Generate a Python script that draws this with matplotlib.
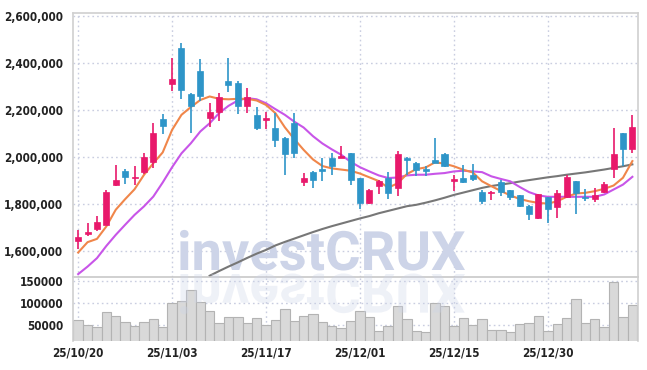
import matplotlib
matplotlib.use('Agg')
import matplotlib.pyplot as plt
import numpy as np
from matplotlib import font_manager
from matplotlib.textpath import TextPath
from matplotlib.patches import PathPatch
from matplotlib.transforms import Affine2D, IdentityTransform
from matplotlib.font_manager import FontProperties

# ---------------- data ----------------
opens = [1644000, 1670000, 1695000, 1712000, 1881000, 1938000, 1908000, 1935000, 1979000, 2163000,
         2311000, 2464000, 2268000, 2366000, 2167000, 2190000, 2323000, 2315000, 2218000, 2179000,
         2157000, 2123000, 2082000, 2144000, 1894000, 1937000, 1950000, 1997000, 1996000, 2016000,
         1910000, 1804000, 1875000, 1910000, 1867000, 1997000, 1972000, 1950000, 1988000, 2014000,
         1899000, 1911000, 1924000, 1852000, 1846000, 1892000, 1857000, 1837000, 1793000, 1740000,
         1830000, 1787000, 1830000, 1896000, 1831000, 1821000, 1852000, 1949000, 2102000, 2034000]
highs = [1688000, 1718000, 1749000, 1858000, 1966000, 1948000, 1962000, 2016000, 2143000, 2182000,
         2420000, 2484000, 2270000, 2416000, 2231000, 2271000, 2420000, 2325000, 2292000, 2211000,
         2193000, 2186000, 2084000, 2186000, 1931000, 1940000, 1995000, 2016000, 2048000, 2018000,
         1912000, 1863000, 1903000, 1936000, 2023000, 1998000, 1979000, 1962000, 2080000, 2016000,
         1924000, 1964000, 1970000, 1857000, 1854000, 1903000, 1858000, 1838000, 1794000, 1841000,
         1831000, 1861000, 1921000, 1897000, 1864000, 1868000, 1895000, 2123000, 2103000, 2177000]
lows = [1608000, 1664000, 1684000, 1710000, 1874000, 1884000, 1879000, 1928000, 1952000, 2099000,
        2282000, 2245000, 2101000, 2236000, 2126000, 2153000, 2275000, 2182000, 2186000, 2115000,
        2118000, 2044000, 1922000, 1995000, 1875000, 1867000, 1896000, 1924000, 1995000, 1882000,
        1778000, 1801000, 1843000, 1822000, 1832000, 1924000, 1917000, 1920000, 1974000, 1958000,
        1856000, 1889000, 1896000, 1799000, 1818000, 1832000, 1818000, 1786000, 1733000, 1737000,
        1719000, 1738000, 1825000, 1755000, 1811000, 1810000, 1847000, 1911000, 1963000, 2017000]
closes = [1660000, 1681000, 1721000, 1851000, 1902000, 1916000, 1916000, 2000000, 2102000, 2132000,
          2332000, 2285000, 2217000, 2257000, 2192000, 2254000, 2304000, 2217000, 2254000, 2123000,
          2166000, 2072000, 2014000, 2016000, 1911000, 1900000, 1938000, 1960000, 2001000, 1900000,
          1804000, 1860000, 1896000, 1846000, 2012000, 1985000, 1945000, 1941000, 1974000, 1960000,
          1903000, 1894000, 1907000, 1811000, 1852000, 1849000, 1828000, 1790000, 1757000, 1840000,
          1779000, 1848000, 1915000, 1847000, 1824000, 1838000, 1886000, 2014000, 2034000, 2126000]
ma_short = [1593000, 1637000, 1651000, 1704000, 1775000, 1820000, 1862000, 1923000, 1973000, 2019000,
            2115000, 2179000, 2212000, 2242000, 2257000, 2247000, 2245000, 2247000, 2247000, 2240000,
            2221000, 2186000, 2126000, 2076000, 2030000, 1989000, 1961000, 1951000, 1946000, 1941000,
            1929000, 1913000, 1897000, 1869000, 1887000, 1927000, 1948000, 1955000, 1977000, 1971000,
            1960000, 1945000, 1934000, 1896000, 1875000, 1855000, 1836000, 1821000, 1811000, 1804000,
            1801000, 1811000, 1830000, 1844000, 1847000, 1854000, 1864000, 1878000, 1911000, 1982000]
ma_mid = [1501000, 1533000, 1569000, 1621000, 1668000, 1711000, 1753000, 1789000, 1831000, 1891000,
          1956000, 2015000, 2058000, 2108000, 2143000, 2186000, 2217000, 2240000, 2250000, 2245000,
          2228000, 2203000, 2179000, 2150000, 2125000, 2088000, 2057000, 2032000, 2009000, 1979000,
          1956000, 1938000, 1921000, 1910000, 1912000, 1921000, 1924000, 1924000, 1928000, 1931000,
          1938000, 1941000, 1938000, 1935000, 1917000, 1906000, 1896000, 1872000, 1850000, 1836000,
          1830000, 1830000, 1830000, 1830000, 1830000, 1830000, 1840000, 1861000, 1882000, 1915000]
ma_long = [None] * 14 + [
    1494000, 1514000, 1533000, 1551000, 1570000, 1588000, 1604000, 1623000, 1638000, 1652000,
    1666000, 1680000, 1693000, 1705000, 1716000, 1727000, 1738000, 1748000, 1760000, 1770000,
    1780000, 1790000, 1796000, 1805000, 1815000, 1826000, 1838000, 1848000, 1858000, 1868000,
    1876000, 1882000, 1888000, 1895000, 1901000, 1907000, 1913000, 1918000, 1924000, 1929000,
    1934000, 1940000, 1946000, 1953000, 1960000, 1968000]
volumes = [60600, 50000, 45500, 78800, 70500, 56100, 47700, 56100, 62900, 45500,
           100000, 103800, 129500, 101500, 81100, 53800, 67400, 67400, 53800, 65200,
           50000, 60600, 85600, 58300, 70500, 74200, 56100, 47700, 42400, 58300,
           81100, 68200, 35600, 47700, 93200, 62900, 35600, 33300, 100000, 93200,
           47000, 65200, 50000, 62900, 37900, 37900, 33300, 51500, 53800, 69700,
           35600, 51500, 65200, 108300, 53800, 62900, 44700, 147000, 67400, 94700]
date_tick_idx = [0, 10, 20, 30, 40, 50]
date_tick_labels = ['25/10/20', '25/11/03', '25/11/17', '25/12/01', '25/12/15', '25/12/30']
price_ticks = [1600000, 1800000, 2000000, 2200000, 2400000, 2600000]
volume_ticks = [50000, 100000, 150000]

# ---------------- style ----------------
UP = '#e8196b'
DOWN = '#2e95c8'
GRID = '#c9cde0'
SPINE = '#d0d0d0'
TXT = '#222222'

# choose a condensed bold font for the tick labels if one is installed
cond_file = None
prefs = ['DejaVuSansCondensed-Bold', 'LiberationSansNarrow-Bold', 'RobotoCondensed-Bold',
         'OpenSans_Condensed-Bold', 'OpenSansCondensed-Bold', 'NotoSans-CondensedBold',
         'DejaVuSansCondensed']
files = [f.fname for f in font_manager.fontManager.ttflist]
for p in prefs:
    hits = [f for f in files if p.lower() in f.lower().replace(' ', '')]
    if hits:
        cond_file = hits[0]
        break
if cond_file:
    lab_prop = FontProperties(fname=cond_file, size=8.4)
else:
    lab_prop = FontProperties(family='Roboto', weight='bold', size=8.4)

W, H = 647, 370
fig = plt.figure(figsize=(W / 100, H / 100), dpi=100)
L, R = 73, 638
top, sep, bot = 13.3, 276.7, 341
ax = fig.add_axes([L / W, (H - sep) / H, (R - L) / W, (sep - top) / H])
axv = fig.add_axes([L / W, (H - bot) / H, (R - L) / W, (bot - sep) / H])
axv.set_facecolor('none')

n = len(opens)
x = np.arange(n)
o = np.array(opens, float); c = np.array(closes, float)
hi = np.array(highs, float); lo = np.array(lows, float)
up = c >= o
cols = [UP if u else DOWN for u in up]

# wicks
ax.vlines(x, lo, hi, colors=cols, linewidth=1.2, zorder=3)
# bodies
body_bot = np.minimum(o, c)
body_h = np.maximum(np.abs(c - o), 6000)
ax.bar(x, body_h, bottom=body_bot, width=0.64, color=cols, edgecolor=cols, linewidth=0.5, zorder=4)

# moving averages
ax.plot(x, ma_long, color='#777777', lw=1.5, zorder=2.5)
ax.plot(x, ma_mid, color='#c855e8', lw=1.5, zorder=2.6)
ax.plot(x, ma_short, color='#f0864a', lw=1.5, zorder=2.7)

xl = (-0.55, 59.6)
ax.set_xlim(*xl)
ax.set_ylim(1490000, 2611000)
ax.set_yticks(price_ticks)
ax.set_yticklabels([f'{v:,}' for v in price_ticks])
ax.set_xticks(date_tick_idx)
ax.tick_params(axis='x', labelbottom=False, length=0)
ax.tick_params(axis='y', length=0, pad=7)
for t in ax.get_yticklabels():
    t.set_fontproperties(lab_prop); t.set_color(TXT)
ax.grid(True, color=GRID, linestyle=(0, (1.2, 2.2)), linewidth=1.0)
ax.set_axisbelow(True)
for s in ['top', 'left', 'right']:
    ax.spines[s].set_color(SPINE); ax.spines[s].set_linewidth(1.2)
ax.spines['bottom'].set_color('#c8c8c8'); ax.spines['bottom'].set_linewidth(1.2)

# volume
axv.bar(x, volumes, width=1.0, color='#d9d9d9', edgecolor='#b3b3b3', linewidth=0.8, zorder=2)
axv.set_xlim(*xl)
axv.set_ylim(14000, 159000)
axv.set_yticks(volume_ticks)
axv.set_yticklabels([str(v) for v in volume_ticks])
axv.set_xticks(date_tick_idx)
axv.set_xticklabels(date_tick_labels)
axv.tick_params(length=0)
axv.tick_params(axis='y', pad=7)
axv.tick_params(axis='x', pad=4)
for t in axv.get_yticklabels() + axv.get_xticklabels():
    t.set_fontproperties(lab_prop); t.set_color(TXT)
axv.grid(True, color=GRID, linestyle=(0, (1.2, 2.2)), linewidth=1.0)
axv.set_axisbelow(True)
axv.spines['top'].set_visible(False)
axv.spines['bottom'].set_visible(False)
for s in ['left', 'right']:
    axv.spines[s].set_color(SPINE); axv.spines[s].set_linewidth(1.2)

# watermark
wm_prop = FontProperties(family='Roboto', weight='bold')
tp = TextPath((0, 0), 'investCRUX', size=100, prop=wm_prop)
bb = tp.get_extents()
scale = 285 / bb.width
x0 = 180 - bb.x0 * scale
base = H - 270
tr_main = Affine2D().scale(scale, scale).translate(x0, base)
p_main = PathPatch(tr_main.transform_path(tp), facecolor='#cdd4e8', edgecolor='none',
                   transform=IdentityTransform(), zorder=0.8, clip_on=False)
ax.add_artist(p_main)
mirror = H - 274
tr_ref = Affine2D().scale(scale, -scale).translate(x0, mirror)
p_ref = PathPatch(tr_ref.transform_path(tp), facecolor=(0.80, 0.83, 0.91, 0.32), edgecolor='none',
                  transform=IdentityTransform(), zorder=3, clip_on=False)
axv.add_artist(p_ref)

fig.savefig('out.png', dpi=100)
